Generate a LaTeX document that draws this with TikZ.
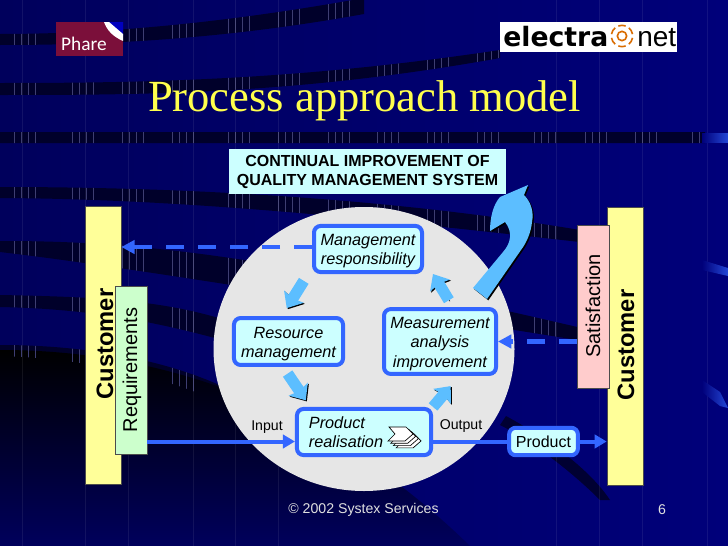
\documentclass[tikz,border=0pt]{standalone}
\usepackage{fontspec}
\setmainfont{Liberation Sans}
\newfontfamily\titlefont{Liberation Serif}
\newfontfamily\logofont{Carlito}
\newfontfamily\heavyfont{DejaVu Sans}
\usetikzlibrary{arrows.meta,shadows}

\definecolor{navyleft}{HTML}{00005C}
\definecolor{navyright}{HTML}{00007A}
\definecolor{bandcol}{HTML}{00002A}
\definecolor{tickcol}{HTML}{3E3E72}
\definecolor{linecol}{HTML}{3366FF}
\definecolor{boxcol}{HTML}{CCFFFF}
\definecolor{flowcol}{HTML}{5CBEFF}
\definecolor{discgray}{HTML}{E6E6E6}
\definecolor{barcol}{HTML}{FFFF99}
\definecolor{reqcol}{HTML}{CCFFCC}
\definecolor{satcol}{HTML}{FFCCCC}
\definecolor{titlecol}{HTML}{FFFF4D}
\definecolor{pharecol}{HTML}{7B0F3A}

\newcommand{\lowerline}{\rule{0pt}{11.9pt}}

\tikzset{
  procbox/.style={draw=linecol,line width=3pt,fill=boxcol,rounded corners=5pt,align=center,inner sep=0pt,
    font=\fontsize{12.2}{14.5}\selectfont\itshape,drop shadow={shadow xshift=.9pt,shadow yshift=-.9pt,opacity=1,fill=navyleft!70!black}},
  sidebar/.style={draw=black!70,line width=.5pt,inner sep=0pt,drop shadow={shadow xshift=1pt,shadow yshift=-1pt,opacity=1,fill=black}},
  flowarrow/.style={-{Stealth[inset=1.5pt,length=10pt,width=17pt]},line width=8.5pt,draw=flowcol,
    preaction={draw=black,transform canvas={shift={(.8pt,-.8pt)}}}},
  inflow/.style={-{Triangle[length=9pt,width=10pt]},line width=3pt,draw=linecol},
  fbflow/.style={-{Triangle[length=10pt,width=10pt]},line width=3.3pt,draw=linecol,dash pattern=on 13.5pt off 10.5pt},
  smalltext/.style={font=\fontsize{10.6}{12}\selectfont,inner sep=0pt},
}

\def\bandpath{
  (0,34) .. controls (100,34) and (220,24) .. (364,-2) -- (364,14) .. controls (220,40) and (100,45) .. (0,45) -- cycle
  (0,83) .. controls (150,83) and (300,80) .. (500,50) -- (500,58) .. controls (300,94) and (150,95) .. (0,95) -- cycle
  (0,132) -- (705,132) -- (705,143) -- (0,143) -- cycle
  (0,187) .. controls (200,187) and (400,200) .. (580,230) -- (580,242) .. controls (400,222) and (200,199) .. (0,198) -- cycle
  (0,241) .. controls (120,241) and (250,250) .. (590,330) -- (590,342) .. controls (300,296) and (120,266) .. (0,252) -- cycle
  (0,295) .. controls (100,297) and (170,300) .. (240,325) -- (240,345) .. controls (170,325) and (100,309) .. (0,307) -- cycle
  (0,345) .. controls (80,345) and (170,358) .. (240,395) -- (240,412) .. controls (170,375) and (80,358) .. (0,356) -- cycle
}

\begin{document}
\begin{tikzpicture}[x=.75pt,y=-.75pt]
  \useasboundingbox (0,0) rectangle (728,546);
  % backdrop
  \shade[left color=navyleft,right color=navyright] (0,0) rectangle (728,546);
  \fill[bandcol] \bandpath;
  \shade[top color=black,bottom color=navyleft] (0,350) .. controls (120,350) and (300,380) .. (470,546) -- (0,546) -- cycle;
  \fill[navyleft!55!black] (506,416) .. controls (550,440) and (590,470) .. (610,500) -- (600,500) .. controls (570,470) and (530,440) .. (500,425) -- cycle;
  \begin{scope}
    \clip \bandpath;
    \foreach \cl in {14,72,122,172,228,278,328,377,427,477,534,585,635,692}
      \foreach \dx in {0,7,14,21}
        \draw[tickcol,line width=.4pt] (\cl+\dx,0) -- (\cl+\dx,420);
  \end{scope}
  \foreach \lx in {22,85,128,193,235,278,556,599,642,707}
    \draw[white,opacity=.07,line width=.4pt] (\lx,0) -- (\lx,546);
  \shade[left color=navyright,right color=linecol!70!navyright] (702,133) rectangle (728,142);
  \shade[left color=navyright,right color=linecol!70!navyright] (702,260) -- (728,268) -- (728,276) -- (702,270) -- cycle;
  \shade[left color=navyright,right color=linecol!70!navyright] (702,380) -- (720,392) -- (728,408) -- (720,406) -- (702,392) -- cycle;

  % logos
  \fill[pharecol] (56,22) rectangle (123,56);
  \fill[blue!75!black] (108,22) -- (123,22) -- (123,36) -- cycle;
  \fill[white] (104,22) .. controls (107,30) and (112,36) .. (123,41) -- (123,34) -- (109,22) -- cycle;
  \node[white,font=\logofont\fontsize{14.5}{15}\selectfont,inner sep=0pt] (pharetext) at (84,44) {Phare};
  \fill[white] (500,22) rectangle (677,52);
  \node[font=\heavyfont\bfseries\fontsize{20}{20}\selectfont,inner sep=0pt,anchor=base west] (electra) at (503,46) {electra};
  \node[font=\fontsize{21}{21}\selectfont,inner sep=0pt,anchor=base west] (nettext) at (637,46) {net};
  \draw[orange!85!black,line width=1.2pt] (622,36) circle[radius=3.5pt];
  \foreach \ang in {30,90,150,210,270,330}
    \draw[orange!85!black,line width=1.2pt] (\ang-20:8pt) ++(622,36) arc[start angle=\ang-20,end angle=\ang+20,radius=8pt];

  % title
  \node[titlecol,font=\titlefont\fontsize{33.4}{36}\selectfont,inner sep=0pt] (title) at (364.5,101) {Process approach model};
  \node[draw=none,fill=boxcol,align=center,inner sep=0pt,minimum width=207.75pt,minimum height=33.75pt,
    font=\bfseries\fontsize{12}{14.25}\selectfont] (improve) at (367.5,171.5) {CONTINUAL IMPROVEMENT OF\\QUALITY MANAGEMENT SYSTEM};

  % centre disc
  \fill[discgray] (364,349) ellipse[x radius=150.5,y radius=142];

  % customers
  \node[sidebar,fill=barcol,minimum width=27pt,minimum height=208.5pt] (custl) at (103,345) {};
  \node[rotate=90,font=\bfseries\fontsize{17.8}{18}\selectfont,inner sep=0pt] (custltext) at (105,344) {Customer};
  \node[sidebar,fill=reqcol,minimum width=24pt,minimum height=126pt] (req) at (131,370) {};
  \node[rotate=90,font=\fontsize{15}{16}\selectfont,inner sep=0pt] (reqtext) at (132,370) {Requirements};
  \node[sidebar,fill=barcol,minimum width=27pt,minimum height=208.5pt] (custr) at (625,346) {};
  \node[rotate=90,font=\bfseries\fontsize{17.8}{18}\selectfont,inner sep=0pt] (custrtext) at (626,345) {Customer};
  \node[sidebar,fill=satcol,minimum width=24pt,minimum height=122pt] (sat) at (593,306.5) {};
  \node[rotate=90,font=\fontsize{15}{16}\selectfont,inner sep=0pt] (sattext) at (593,306) {Satisfaction};

  % process boxes
  \node[procbox,minimum width=81pt,minimum height=34.6pt] (mgmt) at (368,249) {\lowerline Management\\responsibility};
  \node[procbox,minimum width=81.8pt,minimum height=35.2pt] (res) at (288.5,341.5) {\lowerline Resource\\management};
  \node[procbox,minimum width=84pt,minimum height=48.6pt] (meas) at (440,341.5) {\lowerline Measurement\\analysis\\improvement};
  \node[procbox,minimum height=34.6pt,text width=82.6pt,inner xsep=9pt,align=left] (real) at (364,432) {Product\\realisation};
  \node[procbox,minimum width=51.6pt,minimum height=20.6pt,font=\fontsize{12}{14.5}\selectfont] (prodout) at (543.5,441.5) {Product};
  \node[smalltext] (input) at (267,427) {Input};
  \node[smalltext] (output) at (461,426) {Output};

  % stacked sheets
  \foreach \i in {3,2,1,0}
    \draw[fill=white,line width=.5pt,shift={(2.7*\i,2.3*\i)}] (389,427) -- (406,427) -- (413,434) -- (405,441) -- (388,441) -- (395,434) -- cycle;

  % solid and dashed links
  \draw[inflow] (req.east |- prodout.west) -- (real.west |- prodout.west);
  \draw[line width=3pt,draw=linecol] (real.east |- prodout.west) -- (prodout.west);
  \draw[inflow] (prodout.east) -- (prodout.east -| custr.west);
  \draw[fbflow] ([yshift=1.5pt]mgmt.west) -- ([yshift=1.5pt]mgmt.west -| custl.east);
  \draw[fbflow] (sat.west |- meas.east) -- (meas.east);

  % cycle arrows
  \draw[flowarrow,shorten <=6pt,shorten >=7pt] ([xshift=-3pt]mgmt.south west) -- ([xshift=-5pt]res.north);
  \draw[flowarrow,shorten <=6pt,shorten >=6pt] ([xshift=-4pt]res.south) -- ([xshift=11.5pt]real.north west);
  \draw[flowarrow,shorten >=10pt] (real.north east) -- ([xshift=14.5pt]meas.south);
  \draw[flowarrow,shorten <=6pt] ([xshift=9.75pt]meas.north) -- ([xshift=6.75pt]mgmt.south east);

  % big arrow
  \fill[flowcol,drop shadow={shadow xshift=1pt,shadow yshift=-1pt,opacity=1,fill=black}]
    (473,288) -- (503,252) .. controls (511,243) and (513,232) .. (505,222) -- (490,231)
    .. controls (490,218) and (493,205) .. (500,197) -- (528,185) -- (524,195)
    .. controls (531,202) and (534,212) .. (532,222) .. controls (531,232) and (527,242) .. (521,250) -- (487,299) -- cycle;

  % footer
  \node[smalltext,text=black!12] (footer) at (363.5,510) {© 2002 Systex Services};
  \node[smalltext,text=black!12] (pagenum) at (662,510) {6};
\end{tikzpicture}
\end{document}
